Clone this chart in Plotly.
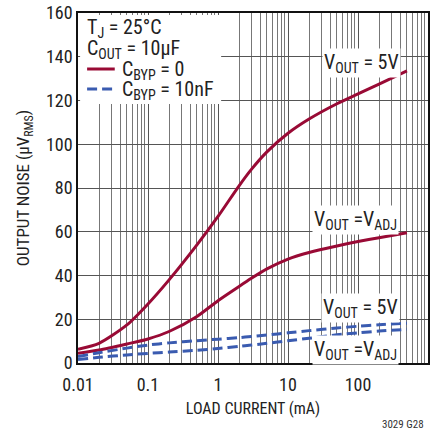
import plotly.graph_objects as go

load_ma = [0.01, 0.02, 0.05, 0.1, 0.2, 0.5, 1, 2, 3, 5, 10, 20, 50, 100, 200, 500]
noise_5v_cbyp0 = [6.3, 9.0, 17.4, 27, 38, 54, 67, 81, 88.5, 96.5, 105, 111.5, 118.5, 123, 127.5, 133.5]
noise_adj_cbyp0 = [4.4, 5.9, 8.7, 11, 14.4, 21.3, 28.5, 35, 38.7, 43, 47.5, 50.5, 53.5, 55.5, 57.3, 59.5]
noise_5v_cbyp10n = [3.0, 4.7, 6.8, 8.2, 9.2, 10.2, 10.9, 11.6, 12.1, 12.8, 13.8, 14.8, 16.0, 16.8, 17.5, 18.2]
noise_adj_cbyp10n = [1.6, 2.6, 3.7, 4.4, 5.0, 5.8, 6.6, 7.6, 8.2, 9.0, 10.2, 11.3, 12.9, 13.8, 14.6, 15.4]

x_tickvals = [0.01, 0.1, 1, 10, 100]
x_ticktext = ["0.01", "0.1", "1", "10", "100"]

RED = "#990A35"
BLUE = "#3A5BB0"
FONT = "Liberation Sans Narrow, Arial Narrow, Roboto Condensed, sans-serif"
DASH = "10px,5px"

minor_vals = [m * 10 ** e for e in range(-2, 3) for m in range(2, 10)]

fig = go.Figure()
fig.add_trace(go.Scatter(x=load_ma, y=noise_5v_cbyp0, mode="lines",
                         line=dict(color=RED, width=3, shape="spline", smoothing=0.7),
                         name="C<sub>BYP</sub> = 0", showlegend=False))
fig.add_trace(go.Scatter(x=load_ma, y=noise_adj_cbyp0, mode="lines",
                         line=dict(color=RED, width=3, shape="spline", smoothing=0.7),
                         name="C<sub>BYP</sub> = 0", showlegend=False))
fig.add_trace(go.Scatter(x=load_ma, y=noise_5v_cbyp10n, mode="lines",
                         line=dict(color=BLUE, width=3, dash=DASH, shape="spline", smoothing=0.7),
                         name="C<sub>BYP</sub> = 10nF", showlegend=False))
fig.add_trace(go.Scatter(x=load_ma, y=noise_adj_cbyp10n, mode="lines",
                         line=dict(color=BLUE, width=3, dash=DASH, shape="spline", smoothing=0.7),
                         name="C<sub>BYP</sub> = 10nF", showlegend=False))

label_font = dict(family=FONT, size=20, color="#222")
labels = [
    (2.05, 0.857, "V<sub>OUT</sub> = 5V"),
    (1.97, 0.409, "V<sub>OUT</sub> =V<sub>ADJ</sub>"),
    (2.03, 0.157, "V<sub>OUT</sub> = 5V"),
    (1.97, 0.037, "V<sub>OUT</sub> =V<sub>ADJ</sub>"),
]
for xl, yp, t in labels:
    fig.add_annotation(x=xl, xref="x", y=yp, yref="paper", text=t, showarrow=False,
                       font=label_font, bgcolor="white", borderpad=1,
                       xanchor="center", yanchor="middle")

# legend box (manual)
fig.add_shape(type="rect", xref="paper", yref="paper", x0=0.006, x1=0.409, y0=0.74, y1=0.994,
              fillcolor="white", line=dict(width=0), layer="above")
legend_texts = [
    (0.02, 0.957, "T<sub>J</sub> = 25°C"),
    (0.02, 0.897, "C<sub>OUT</sub> = 10µF"),
    (0.119, 0.837, "C<sub>BYP</sub> = 0"),
    (0.119, 0.78, "C<sub>BYP</sub> = 10nF"),
]
for xp, yp, t in legend_texts:
    fig.add_annotation(x=xp, y=yp, xref="paper", yref="paper", text=t, showarrow=False,
                       font=label_font, xanchor="left", yanchor="middle")
fig.add_shape(type="line", xref="paper", yref="paper", x0=0.026, x1=0.105, y0=0.84, y1=0.84,
              line=dict(color=RED, width=3), layer="above")
fig.add_shape(type="line", xref="paper", yref="paper", x0=0.026, x1=0.105, y0=0.783, y1=0.783,
              line=dict(color=BLUE, width=3, dash=DASH), layer="above")

fig.add_annotation(x=0.994, y=-0.177, xref="paper", yref="paper", text="3029 G28",
                   showarrow=False, font=dict(family=FONT, size=11, color="#333"),
                   xanchor="right", yanchor="middle")

fig.update_layout(
    width=430, height=438,
    margin=dict(l=78, r=0, t=13, b=75),
    paper_bgcolor="white", plot_bgcolor="white",
    font=dict(family=FONT, size=18, color="#222"),
    showlegend=False,
    xaxis=dict(type="log", range=[-2, 3], tickvals=x_tickvals, ticktext=x_ticktext,
               showgrid=True, gridcolor="#555", gridwidth=1,
               showline=True, linecolor="#111", linewidth=1.5, mirror=True,
               ticks="", zeroline=False, ticklabelstandoff=5,
               minor=dict(tickvals=minor_vals, showgrid=True, gridcolor="#777", gridwidth=1, ticks=""),
               title=dict(text="LOAD CURRENT (mA)", font=dict(family=FONT, size=16), standoff=8),
               tickfont=dict(family=FONT, size=18)),
    yaxis=dict(range=[0, 160], dtick=20, showgrid=True, gridcolor="#555", gridwidth=1,
               showline=True, linecolor="#111", linewidth=1.5, mirror=True,
               ticks="", zeroline=False,
               title=dict(text="OUTPUT NOISE (µV<sub>RMS</sub>)", font=dict(family=FONT, size=17), standoff=12),
               tickfont=dict(family=FONT, size=18)),
)

fig.write_html("out.html", config={"displayModeBar": False},
               post_script="document.body.style.margin='0px';")
